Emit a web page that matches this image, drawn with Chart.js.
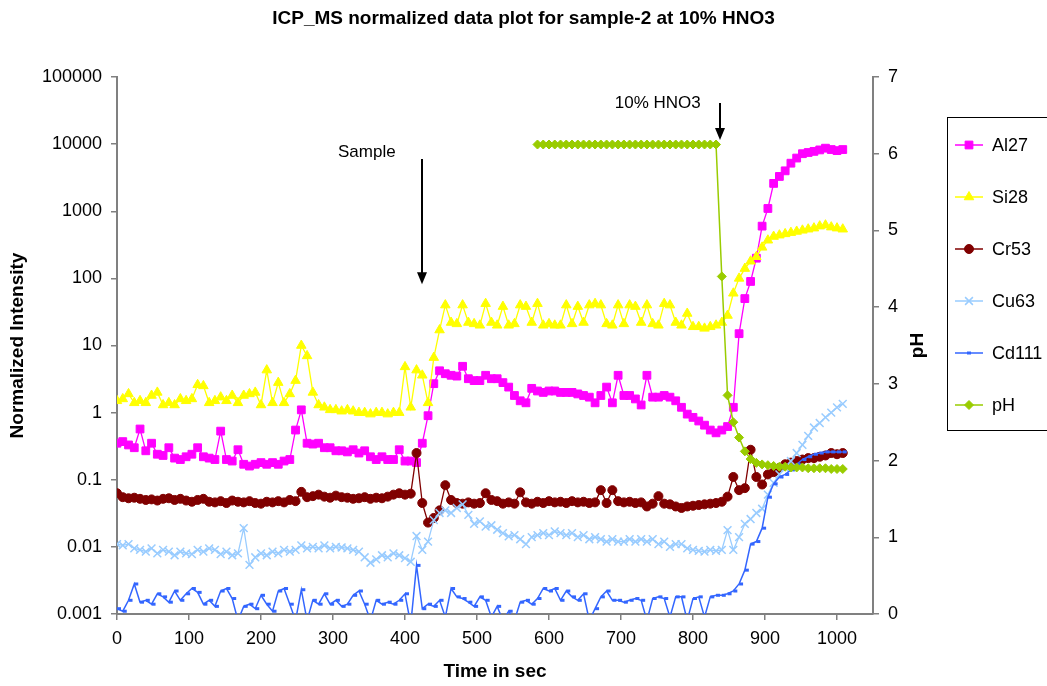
<!DOCTYPE html>
<html>
<head>
<meta charset="utf-8">
<title>ICP_MS normalized data plot</title>
<script src="https://cdn.jsdelivr.net/npm/chart.js@4.4.1/dist/chart.umd.min.js"></script>
<style>
  html, body { margin: 0; padding: 0; background: #fff; }
  canvas { display: block; }
</style>
</head>
<body>
<canvas id="icp" width="1047" height="686"></canvas>
<script>
// time in seconds for the ICP-MS readings
var time = [
  0,8,16,24,32,40,48,56,64,72,
  80,88,96,104,112,120,128,136,144,152,
  160,168,176,184,192,200,208,216,224,232,
  240,248,256,264,272,280,288,296,304,312,
  320,328,336,344,352,360,368,376,384,392,
  400,408,416,424,432,440,448,456,464,472,
  480,488,496,504,512,520,528,536,544,552,
  560,568,576,584,592,600,608,616,624,632,
  640,648,656,664,672,680,688,696,704,712,
  720,728,736,744,752,760,768,776,784,792,
  800,808,816,824,832,840,848,856,864,872,
  880,888,896,904,912,920,928,936,944,952,
  960,968,976,984,992,1000,1008
];

var al27 = [
  0.35,0.37,0.33,0.30,0.57,0.27,0.35,0.24,0.23,0.30,
  0.21,0.20,0.22,0.24,0.30,0.22,0.21,0.20,0.53,0.20,
  0.19,0.28,0.17,0.16,0.17,0.18,0.17,0.18,0.17,0.19,
  0.20,0.55,1.1,0.35,0.34,0.35,0.30,0.30,0.27,0.27,
  0.26,0.28,0.25,0.27,0.22,0.20,0.22,0.20,0.20,0.28,
  0.19,0.19,0.18,0.35,0.9,2.7,4.2,3.8,3.6,3.5,
  4.9,3.2,3.0,3.0,3.6,3.2,3.2,2.8,2.4,1.8,
  1.5,1.4,2.3,2.1,2.0,2.1,2.1,2.0,2.0,2.0,
  1.9,1.8,1.7,1.4,1.8,2.4,1.4,3.6,1.8,1.8,
  1.6,1.3,3.6,1.7,1.7,1.8,1.7,1.5,1.2,0.95,
  0.85,0.75,0.65,0.55,0.5,0.55,0.62,1.2,15,50,
  90,200,600,1100,2600,3300,4000,5200,6200,7200,
  7500,7800,8200,8700,8300,8000,8300
];

var si28 = [
  1.5,1.6,1.9,1.4,1.5,1.4,1.8,2.0,1.3,1.4,
  1.3,1.6,1.5,1.6,2.6,2.5,1.4,1.5,1.7,1.5,
  1.8,1.4,1.8,1.9,2.0,1.3,4.3,1.4,2.8,1.4,
  1.9,3.0,10,7,2.0,1.3,1.2,1.1,1.1,1.05,
  1.1,1.05,1.0,1.0,0.95,1.0,1.0,0.95,1.0,1.0,
  4.8,1.2,4.3,3.6,1.4,6.6,17,40,22,21,
  40,22,21,20,42,22,20,38,20,21,
  40,38,22,42,20,21,20,20,40,21,
  38,22,40,42,40,21,20,40,21,40,
  38,22,40,21,20,42,40,22,20,30,
  19,19,18,19,20,22,28,60,100,140,
  180,210,290,370,420,440,460,480,500,520,
  540,560,600,620,580,560,540
];

var cr53 = [
  0.063,0.055,0.053,0.054,0.052,0.050,0.051,0.049,0.052,0.053,
  0.050,0.052,0.049,0.047,0.050,0.052,0.047,0.046,0.048,0.045,
  0.049,0.047,0.046,0.048,0.045,0.044,0.047,0.046,0.048,0.046,
  0.050,0.048,0.066,0.055,0.057,0.060,0.056,0.054,0.058,0.055,
  0.054,0.052,0.053,0.055,0.052,0.054,0.053,0.056,0.060,0.063,
  0.060,0.062,0.25,0.045,0.023,0.027,0.035,0.083,0.050,0.045,
  0.044,0.046,0.044,0.045,0.063,0.050,0.048,0.044,0.046,0.044,
  0.065,0.046,0.044,0.047,0.045,0.048,0.046,0.047,0.045,0.048,
  0.046,0.047,0.045,0.046,0.070,0.045,0.070,0.048,0.046,0.047,
  0.045,0.046,0.040,0.044,0.057,0.044,0.043,0.040,0.038,0.040,
  0.041,0.042,0.043,0.044,0.045,0.047,0.056,0.11,0.070,0.075,
  0.28,0.11,0.085,0.12,0.13,0.15,0.17,0.18,0.19,0.20,
  0.21,0.21,0.22,0.23,0.25,0.24,0.25
];

var cu63 = [
  0.011,0.0105,0.011,0.0095,0.009,0.0085,0.0095,0.008,0.009,0.0085,
  0.0075,0.0085,0.008,0.0078,0.009,0.0085,0.0095,0.009,0.0078,0.0085,
  0.0075,0.008,0.019,0.0054,0.007,0.008,0.0075,0.0085,0.008,0.009,
  0.0085,0.009,0.0105,0.0095,0.010,0.0095,0.0105,0.0095,0.010,0.0098,
  0.0095,0.009,0.0085,0.007,0.0058,0.0065,0.0075,0.007,0.008,0.0075,
  0.0068,0.006,0.0145,0.009,0.012,0.025,0.032,0.035,0.032,0.038,
  0.043,0.030,0.022,0.024,0.020,0.021,0.018,0.016,0.0143,0.015,
  0.013,0.011,0.014,0.015,0.016,0.015,0.017,0.016,0.015,0.016,
  0.014,0.015,0.013,0.014,0.013,0.012,0.013,0.012,0.012,0.013,
  0.012,0.013,0.012,0.013,0.011,0.012,0.010,0.011,0.011,0.0095,
  0.009,0.0087,0.0085,0.009,0.0087,0.009,0.0178,0.009,0.014,0.022,
  0.026,0.032,0.037,0.060,0.090,0.12,0.15,0.19,0.25,0.33,
  0.45,0.60,0.70,0.85,1.0,1.2,1.35
];

var cd111 = [
  0.0012,0.0011,0.0016,0.0028,0.0015,0.0016,0.0014,0.0020,0.0018,0.0015,
  0.0022,0.0016,0.0020,0.0024,0.0021,0.0014,0.0016,0.0013,0.0022,0.0024,
  0.0017,0.0008,0.0013,0.0014,0.0012,0.0019,0.0014,0.0011,0.0022,0.0024,
  0.0014,0.0008,0.0023,0.0008,0.0016,0.0014,0.0020,0.0014,0.0016,0.0013,
  0.0014,0.0019,0.0022,0.0014,0.0008,0.0016,0.0014,0.0015,0.0014,0.0016,
  0.0020,0.0007,0.0053,0.0012,0.0014,0.0013,0.0016,0.0009,0.0024,0.0018,
  0.0017,0.0015,0.0013,0.0018,0.0016,0.0009,0.0013,0.0008,0.0011,0.0008,
  0.0015,0.0016,0.0014,0.0017,0.0024,0.0022,0.0024,0.0016,0.0022,0.0018,
  0.0016,0.0020,0.0008,0.0012,0.0018,0.0022,0.0016,0.0016,0.0015,0.0016,
  0.0017,0.0016,0.0008,0.0017,0.0018,0.0017,0.0009,0.0018,0.0018,0.0008,
  0.0017,0.0018,0.0009,0.0018,0.0019,0.0019,0.0020,0.0022,0.0028,0.0045,
  0.011,0.012,0.019,0.055,0.087,0.11,0.12,0.14,0.17,0.20,
  0.22,0.24,0.25,0.26,0.26,0.26,0.26
];

// pH probe only logged from ~584 s
var phTime = [
  584,592,600,608,616,624,632,640,648,656,
  664,672,680,688,696,704,712,720,728,736,
  744,752,760,768,776,784,792,800,808,816,
  824,832,840,848,856,864,872,880,888,896,
  904,912,920,928,936,944,952,960,968,976,
  984,992,1000,1008
];
var ph = [
  6.12,6.12,6.12,6.12,6.12,6.12,6.12,6.12,6.12,6.12,
  6.12,6.12,6.12,6.12,6.12,6.12,6.12,6.12,6.12,6.12,
  6.12,6.12,6.12,6.12,6.12,6.12,6.12,6.12,6.12,6.12,
  6.12,6.12,4.4,2.85,2.5,2.3,2.12,2.02,1.97,1.95,
  1.94,1.93,1.92,1.92,1.91,1.91,1.91,1.9,1.9,1.9,
  1.9,1.89,1.89,1.89
];

var xTicks = [0,100,200,300,400,500,600,700,800,900,1000];
var yTicks = [0.001,0.01,0.1,1,10,100,1000,10000,100000];

// text notes and arrows, placed in data units (time, intensity)
var notes = [
  { text: 'Sample', t: 347, v: 7600 },
  { text: '10% HNO3', t: 751, v: 41000 }
];
var arrows = [
  { t: 424, from: 6000, to: 82 },
  { t: 837, from: 41000, to: 11500 }
];

function pts(ts, vs) {
  return ts.map(function (t, i) { return { x: t, y: vs[i] }; });
}

var FONT = '"Liberation Sans", Arial, sans-serif';
Chart.defaults.font.family = FONT;
Chart.defaults.font.size = 18;
Chart.defaults.color = '#000';

var overlay = {
  id: 'overlay',
  afterDraw: function (chart) {
    var ctx = chart.ctx;
    var sx = chart.scales.x, sy = chart.scales.y;
    var area = chart.chartArea;
    ctx.save();

    // arrows
    ctx.strokeStyle = '#000';
    ctx.fillStyle = '#000';
    ctx.lineWidth = 2;
    arrows.forEach(function (a) {
      var px = Math.round(sx.getPixelForValue(a.t));
      var y0 = sy.getPixelForValue(a.from);
      var y1 = sy.getPixelForValue(a.to);
      ctx.beginPath();
      ctx.moveTo(px, y0);
      ctx.lineTo(px, y1 - 8);
      ctx.stroke();
      ctx.beginPath();
      ctx.moveTo(px - 5, y1 - 12);
      ctx.lineTo(px + 5, y1 - 12);
      ctx.lineTo(px, y1);
      ctx.closePath();
      ctx.fill();
    });

    // notes
    ctx.font = '17px ' + FONT;
    ctx.textAlign = 'center';
    ctx.textBaseline = 'middle';
    notes.forEach(function (n) {
      ctx.fillText(n.text, sx.getPixelForValue(n.t), sy.getPixelForValue(n.v));
    });

    // secondary axis title, rotated like the primary one
    ctx.save();
    ctx.translate(918, (area.top + area.bottom) / 2);
    ctx.rotate(-Math.PI / 2);
    ctx.font = 'bold 19px ' + FONT;
    ctx.fillText('pH', 0, 0);
    ctx.restore();

    // legend box
    ctx.lineWidth = 1;
    ctx.strokeStyle = '#000';
    ctx.strokeRect(947.5, 117.5, 120, 313);
    ctx.font = '18px ' + FONT;
    ctx.textAlign = 'left';
    chart.data.datasets.forEach(function (ds, i) {
      var ly = 145 + i * 52;
      ctx.strokeStyle = ds.borderColor;
      ctx.fillStyle = ds.backgroundColor;
      ctx.lineWidth = 1.5;
      ctx.beginPath();
      ctx.moveTo(955, ly);
      ctx.lineTo(983, ly);
      ctx.stroke();
      ctx.lineWidth = ds.pointBorderWidth;
      var off = ds.pointStyle === 'dash' ? -ds.pointRadius / 2 : 0;
      Chart.helpers.drawPoint(ctx, {
        pointStyle: ds.pointStyle,
        radius: ds.pointRadius,
        borderWidth: ds.pointBorderWidth,
        rotation: 0
      }, 969 + off, ly);
      ctx.fillStyle = '#000';
      ctx.fillText(ds.label, 992, ly + 1);
    });

    ctx.restore();
  }
};

var axisGrid = { drawOnChartArea: false, tickLength: 6, color: '#808080', lineWidth: 1.5 };
var axisBorder = { color: '#808080', width: 2 };

var ctx = document.getElementById('icp').getContext('2d');

var chart = new Chart(ctx, {
  type: 'line',
  data: {
    datasets: [
      { label: 'Al27', data: pts(time, al27), yAxisID: 'y', order: 6,
        borderColor: '#FF00FF', backgroundColor: '#FF00FF',
        pointStyle: 'rect', pointRadius: 5.5, pointBorderWidth: 1, borderWidth: 1.3 },
      { label: 'Si28', data: pts(time, si28), yAxisID: 'y', order: 5,
        borderColor: '#FFFF00', backgroundColor: '#FFFF00',
        pointStyle: 'triangle', pointRadius: 5.5, pointBorderWidth: 1, borderWidth: 1.3 },
      { label: 'Cr53', data: pts(time, cr53), yAxisID: 'y', order: 4,
        borderColor: '#800000', backgroundColor: '#800000',
        pointStyle: 'circle', pointRadius: 4.5, pointBorderWidth: 1, borderWidth: 1.3 },
      { label: 'Cu63', data: pts(time, cu63), yAxisID: 'y', order: 3,
        borderColor: '#99CCFF', backgroundColor: '#99CCFF',
        pointStyle: 'crossRot', pointRadius: 5.5, pointBorderWidth: 1.5, borderWidth: 1.3 },
      { label: 'Cd111', data: pts(time, cd111), yAxisID: 'y', order: 2,
        borderColor: '#3366FF', backgroundColor: '#3366FF',
        pointStyle: 'dash', pointRadius: 4, pointBorderWidth: 3, borderWidth: 1.5 },
      { label: 'pH', data: pts(phTime, ph), yAxisID: 'y1', order: 1,
        borderColor: '#99CC00', backgroundColor: '#99CC00',
        pointStyle: 'rectRot', pointRadius: 4.5, pointBorderWidth: 1, borderWidth: 1.5 }
    ]
  },
  options: {
    responsive: false,
    animation: false,
    devicePixelRatio: 1,
    layout: { padding: 0 },
    plugins: {
      legend: { display: false },
      tooltip: { enabled: false },
      title: {
        display: true,
        text: 'ICP_MS normalized data plot for sample-2 at 10% HNO3',
        font: { size: 19, weight: 'bold' },
        color: '#000',
        padding: { top: 7.6, bottom: 46.6 }
      }
    },
    scales: {
      x: {
        type: 'linear', min: 0, max: 1050,
        afterBuildTicks: function (s) { s.ticks = xTicks.map(function (v) { return { value: v }; }); },
        afterFit: function (s) { s.height = 72; },
        grid: axisGrid, border: axisBorder,
        ticks: { padding: 8, maxRotation: 0, autoSkip: false, callback: function (v) { return String(v); } },
        title: { display: true, text: 'Time in sec', font: { size: 19, weight: 'bold' }, padding: { top: 0, bottom: 2.6 } }
      },
      y: {
        type: 'logarithmic', position: 'left', min: 0.001, max: 100000,
        afterBuildTicks: function (s) { s.ticks = yTicks.map(function (v) { return { value: v }; }); },
        afterFit: function (s) { s.width = 117; },
        grid: axisGrid, border: axisBorder,
        ticks: { padding: 9, autoSkip: false, callback: function (v) { return String(v); } },
        title: { display: true, text: 'Normalized Intensity', font: { size: 19, weight: 'bold' }, padding: { top: 6.6, bottom: 0 } }
      },
      y1: {
        type: 'linear', position: 'right', min: 0, max: 7,
        afterFit: function (s) { s.width = 174; },
        grid: axisGrid, border: axisBorder,
        ticks: { stepSize: 1, padding: 9 }
      }
    }
  },
  plugins: [overlay]
});
</script>
</body>
</html>
